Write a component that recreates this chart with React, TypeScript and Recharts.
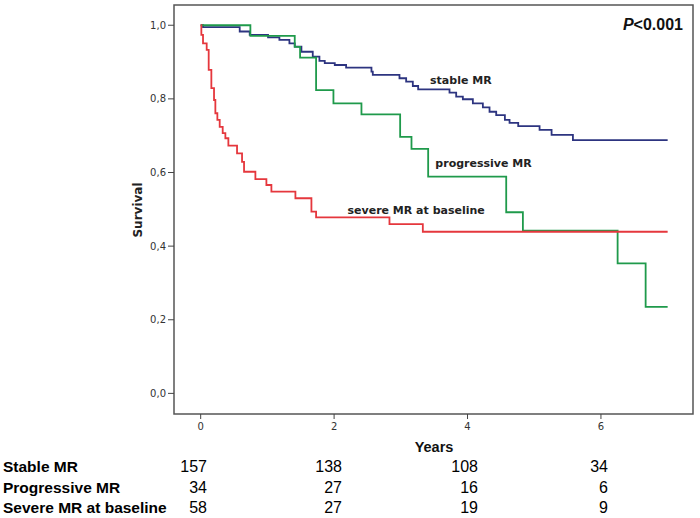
import { LineChart, Line, XAxis, YAxis, ReferenceArea, ReferenceDot } from "recharts"

// Kaplan-Meier steps: [years, survival]
const stableMR: [number, number][] = [
  [0, 1.0], [0.035, 0.995], [0.585, 0.983], [0.735, 0.974], [1.01, 0.967], [1.18, 0.96],
  [1.33, 0.951], [1.41, 0.942], [1.51, 0.928], [1.68, 0.915], [1.78, 0.903], [1.86, 0.897],
  [2.01, 0.892], [2.18, 0.885], [2.56, 0.874], [2.58, 0.865], [2.98, 0.856], [3.08, 0.847],
  [3.18, 0.835], [3.26, 0.826], [3.73, 0.817], [3.83, 0.806], [3.93, 0.799], [4.08, 0.788],
  [4.23, 0.777], [4.33, 0.765], [4.43, 0.756], [4.56, 0.743], [4.63, 0.735], [4.76, 0.726],
  [5.08, 0.716], [5.26, 0.702], [5.58, 0.688], [7.0, 0.688],
]
const progressiveMR: [number, number][] = [
  [0, 1.0], [0.745, 0.971], [1.41, 0.941], [1.49, 0.912], [1.73, 0.824], [1.99, 0.788],
  [2.41, 0.758], [2.99, 0.697], [3.16, 0.664], [3.41, 0.589], [4.58, 0.492], [4.83, 0.442],
  [6.25, 0.353], [6.67, 0.235], [7.0, 0.235],
]
const severeMR: [number, number][] = [
  [0, 1.0], [0.01, 0.974], [0.035, 0.951], [0.09, 0.933], [0.12, 0.879], [0.16, 0.829],
  [0.2, 0.797], [0.22, 0.761], [0.25, 0.743], [0.285, 0.724], [0.33, 0.707], [0.37, 0.693],
  [0.415, 0.673], [0.545, 0.652], [0.62, 0.629], [0.65, 0.602], [0.82, 0.582], [0.985, 0.566],
  [1.06, 0.548], [1.42, 0.53], [1.66, 0.494], [1.73, 0.478], [2.83, 0.46], [3.33, 0.439],
  [7.0, 0.439],
]

const xTicks = [0, 2, 4, 6]
const yTicks = [0, 0.2, 0.4, 0.6, 0.8, 1.0]

const riskLabels = ["Stable MR", "Progressive MR", "Severe MR at baseline"]
const riskCounts = [
  [157, 138, 108, 34],
  [34, 27, 16, 6],
  [58, 27, 19, 9],
]

const toRows = (pts: [number, number][]) => pts.map(([t, s]) => ({ t, s }))

const tickStyle = { fontSize: 10, fill: "#333", fontFamily: "DejaVu Sans" }
const noteStyle = { fill: "#222", fontSize: 11, fontWeight: "bold", fontFamily: "DejaVu Sans" }

// right edges of the at-risk columns
const colRight = [207, 342, 478, 608]
const rowY = [457, 478, 498]

export default function App() {
  return (
    <div style={{ position: "absolute", left: 0, top: 0, width: 700, height: 518, background: "#fff" }}>
      <LineChart width={700} height={518} margin={{ top: 5, right: 7, bottom: 74, left: 0 }}>
        <XAxis
          dataKey="t"
          type="number"
          domain={[-0.4, 7.38]}
          ticks={xTicks}
          allowDataOverflow
          height={30}
          axisLine={false}
          tickLine={{ stroke: "#444" }}
          tickSize={5}
          tickMargin={4}
          tick={tickStyle}
        />
        <YAxis
          type="number"
          domain={[-0.056, 1.055]}
          ticks={yTicks}
          allowDataOverflow
          width={174}
          axisLine={false}
          tickLine={{ stroke: "#444" }}
          tickSize={6}
          tickMargin={2}
          tick={tickStyle}
          tickFormatter={(v: number) => v.toFixed(1).replace(".", ",")}
        />
        <ReferenceArea x1={-0.4} x2={7.38} y1={-0.056} y2={1.055} fill="none" stroke="#555" strokeWidth={1.5} />
        <Line data={toRows(stableMR)} dataKey="s" type="stepAfter" stroke="#2d3480" strokeWidth={1.8} dot={false} isAnimationActive={false} />
        <Line data={toRows(progressiveMR)} dataKey="s" type="stepAfter" stroke="#1f9a4b" strokeWidth={1.8} dot={false} isAnimationActive={false} />
        <Line data={toRows(severeMR)} dataKey="s" type="stepAfter" stroke="#e5373d" strokeWidth={1.8} dot={false} isAnimationActive={false} />
        <ReferenceDot x={3.9} y={0.851} r={0} fill="none" stroke="none" label={{ value: "stable MR", position: "center", ...noteStyle }} />
        <ReferenceDot x={4.24} y={0.626} r={0} fill="none" stroke="none" label={{ value: "progressive MR", position: "center", ...noteStyle }} />
        <ReferenceDot x={3.23} y={0.498} r={0} fill="none" stroke="none" label={{ value: "severe MR at baseline", position: "center", ...noteStyle }} />
      </LineChart>

      <div style={{ position: "absolute", right: 17, top: 16, fontFamily: "Liberation Sans", fontWeight: "bold", fontSize: 16, color: "#111" }}>
        <i>P</i>&lt;0.001
      </div>

      <div
        style={{
          position: "absolute", left: 138, top: 210, transform: "translate(-50%, -50%) rotate(-90deg)",
          fontFamily: "DejaVu Sans", fontWeight: "bold", fontSize: 12, color: "#222", whiteSpace: "nowrap",
        }}
      >
        Survival
      </div>

      <div style={{ position: "absolute", left: 434, top: 447, transform: "translate(-50%, -50%)", fontFamily: "Liberation Sans", fontWeight: "bold", fontSize: 14.5, color: "#111" }}>
        Years
      </div>

      {riskLabels.map((label, r) => (
        <div key={label}>
          <div style={{ position: "absolute", left: 3, top: rowY[r], lineHeight: "20px", fontFamily: "Liberation Sans", fontWeight: "bold", fontSize: 15.5, color: "#000", whiteSpace: "nowrap" }}>
            {label}
          </div>
          {riskCounts[r].map((n, c) => (
            <div key={c} style={{ position: "absolute", right: 700 - colRight[c], top: rowY[r], lineHeight: "20px", fontFamily: "Liberation Sans", fontSize: 16, color: "#000" }}>
              {n}
            </div>
          ))}
        </div>
      ))}
    </div>
  )
}
